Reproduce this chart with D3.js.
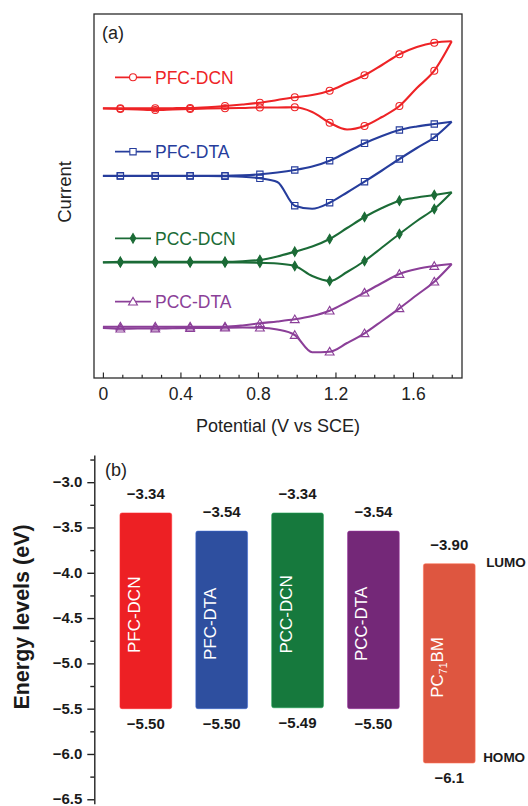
<!DOCTYPE html>
<html><head><meta charset="utf-8">
<script src="https://cdn.jsdelivr.net/npm/d3@7"></script>
<style>
body{margin:0;background:#fff}
svg{display:block;font-family:"Liberation Sans",Arial,Helvetica,sans-serif}
</style>
</head><body>
<svg id="c" width="528" height="806"></svg>
<script>
// ---------- Panel (a): cyclic voltammetry ----------
const potential = [0,0.09,0.18,0.27,0.36,0.45,0.54,0.63,0.72,0.81,0.90,0.99,1.08,1.17,1.26,1.35,1.44,1.53,1.62,1.71,1.80];
const seriesNames = ["PFC-DCN","PFC-DTA","PCC-DCN","PCC-DTA"];
const seriesColors = ["#ee2326","#263d9c","#1b6b36","#8b3f98"];
const seriesSymbols = ["circle","square","diamond","triangle"];
// current (a.u.) on forward (anodic) scan, indexed by potential
const fwdPFC_DCN = [26.97,26.97,26.97,26.97,26.98,27.0,27.08,27.2,27.35,27.53,27.8,28.07,28.3,28.73,29.5,30.27,31.3,32.37,33.1,33.53,33.67];
const fwdPFC_DTA = [20.23,20.23,20.23,20.23,20.23,20.23,20.23,20.23,20.27,20.37,20.55,20.8,21.15,21.73,22.6,23.47,24.2,24.8,25.15,25.4,25.63];
const fwdPCC_DCN = [11.57,11.63,11.63,11.63,11.63,11.63,11.63,11.63,11.68,11.8,12.15,12.63,13.15,13.9,15.0,16.1,17.0,17.73,18.05,18.3,18.57];
const fwdPCC_DTA = [5.13,5.13,5.13,5.13,5.13,5.13,5.13,5.13,5.25,5.47,5.65,5.87,6.2,6.73,7.6,8.53,9.5,10.4,10.9,11.2,11.4];
// current (a.u.) on reverse (cathodic) scan, indexed by potential
const revPFC_DCN = [26.95,26.9,26.85,26.8,26.85,26.9,26.95,26.97,27.0,27.05,27.05,27.07,26.6,25.53,24.85,25.2,26.1,27.2,29.0,30.73,33.67];
const revPFC_DTA = [20.2,20.2,20.2,20.2,20.2,20.2,20.2,20.18,20.13,19.97,19.6,17.23,16.92,17.53,18.55,19.63,20.75,21.9,23.0,24.07,25.63];
const revPCC_DCN = [11.55,11.55,11.55,11.55,11.55,11.55,11.55,11.55,11.55,11.53,11.45,11.2,10.2,9.7,10.6,11.7,13.05,14.4,15.7,16.9,18.57];
const revPCC_DTA = [5.0,4.93,4.95,4.95,4.98,5.0,5.0,5.03,5.05,5.03,4.85,4.3,2.58,2.63,3.5,4.47,5.7,6.97,8.3,9.63,11.4];
const markerPotentials = [0.09,0.27,0.45,0.63,0.81,0.99,1.17,1.35,1.53,1.71];
const xTicksMajor = [0,0.4,0.8,1.2,1.6];
const xTicksMinor = [0.1,0.2,0.3,0.5,0.6,0.7,0.9,1.0,1.1,1.3,1.4,1.5,1.7,1.8];

const fwdAll = [fwdPFC_DCN,fwdPFC_DTA,fwdPCC_DCN,fwdPCC_DTA];
const revAll = [revPFC_DCN,revPFC_DTA,revPCC_DCN,revPCC_DTA];

// ---------- Panel (b): energy levels ----------
const materials = ["PFC-DCN","PFC-DTA","PCC-DCN","PCC-DTA","PC71BM"];
const lumo = [-3.34,-3.54,-3.34,-3.54,-3.90];
const homo = [-5.50,-5.50,-5.49,-5.50,-6.1];
const lumoLabels = ["\u22123.34","\u22123.54","\u22123.34","\u22123.54","\u22123.90"];
const homoLabels = ["\u22125.50","\u22125.50","\u22125.49","\u22125.50","\u22126.1"];
const barColors = ["#ed2024","#2e4f9f","#16793d","#742878","#de5640"];
const eTicksMajor = [-3.0,-3.5,-4.0,-4.5,-5.0,-5.5,-6.0,-6.5];
const eTicksMinor = [-2.75,-3.25,-3.75,-4.25,-4.75,-5.25,-5.75,-6.25];

const svg = d3.select("#c");

// ===== Panel (a) =====
const fL = 94, fR = 462, fT = 14, fB = 378;
const x = d3.scaleLinear().domain([-0.046, 1.853]).range([fL, fR]);
const y = d3.scaleLinear().domain([0, 36.4]).range([fB, fT]);

const gA = svg.append("g");
gA.append("rect").attr("x", fL).attr("y", fT).attr("width", fR-fL).attr("height", fB-fT)
  .attr("fill","none").attr("stroke","#2b2b2b").attr("stroke-width",1.3);

const axMaj = d3.axisBottom(x).tickValues(xTicksMajor).tickSize(-5.5).tickPadding(10)
  .tickFormat(d => d === 0 ? "0" : d3.format(".1f")(d));
const gx = gA.append("g").attr("transform", `translate(0,${fB})`).call(axMaj);
gx.select(".domain").remove();
gx.selectAll(".tick line").attr("stroke","#2b2b2b").attr("stroke-width",1.2);
gx.selectAll(".tick text").attr("font-size",17.5).attr("fill","#222").attr("font-family","Liberation Sans, Arial, sans-serif");
const axMin = d3.axisBottom(x).tickValues(xTicksMinor).tickSize(-3.2).tickFormat("");
const gx2 = gA.append("g").attr("transform", `translate(0,${fB})`).call(axMin);
gx2.select(".domain").remove();
gx2.selectAll(".tick line").attr("stroke","#2b2b2b").attr("stroke-width",1.2);

gA.append("text").attr("x", (fL+fR)/2).attr("y", 432).attr("text-anchor","middle")
  .attr("font-size",18).attr("fill","#222").text("Potential (V vs SCE)");
gA.append("text").attr("transform","translate(71,192) rotate(-90)").attr("text-anchor","middle")
  .attr("font-size",18.5).attr("fill","#222").text("Current");
gA.append("text").attr("x",102).attr("y",39).attr("font-size",18).attr("fill","#222").text("(a)");

const line = d3.line().x(d => x(d[0])).y(d => y(d[1])).curve(d3.curveMonotoneX);
const symType = {circle:d3.symbolCircle, square:d3.symbolSquare, diamond:d3.symbolDiamond, triangle:d3.symbolTriangle};
const symSize = {circle:38, square:40, diamond:26, triangle:34};
const legendOffsets = [31,24,24,25];

seriesNames.forEach((name, i) => {
  const col = seriesColors[i];
  const fwd = potential.map((p,k) => [p, fwdAll[i][k]]);
  const rev = potential.map((p,k) => [p, revAll[i][k]]);
  const g = gA.append("g");
  [fwd, rev].forEach(br => {
    g.append("path").datum(br).attr("d", line).attr("fill","none")
      .attr("stroke", col).attr("stroke-width", 2.1).attr("stroke-linejoin","round");
  });
  const sym = d3.symbol().type(symType[seriesSymbols[i]]).size(symSize[seriesSymbols[i]]);
  const filled = seriesSymbols[i] === "diamond";
  const pts = fwd.concat(rev).filter(d => markerPotentials.some(m => Math.abs(m - d[0]) < 1e-6));
  g.selectAll("path.m").data(pts).join("path").attr("class","m")
    .attr("transform", d => `translate(${x(d[0])},${y(d[1]) + (seriesSymbols[i]==="triangle"?0.8:0)})`)
    .attr("d", sym).attr("fill", filled ? col : "none").attr("stroke", col).attr("stroke-width", 1.1)
    .attr("fill-opacity", filled ? 1 : 0);
  // legend
  const ly = y(fwdAll[i][0]) - legendOffsets[i];
  g.append("line").attr("x1",115).attr("x2",151).attr("y1",ly).attr("y2",ly)
    .attr("stroke", col).attr("stroke-width",1.8);
  g.append("path").attr("transform",`translate(133,${ly + (seriesSymbols[i]==="triangle"?0.8:0)})`).attr("d", sym)
    .attr("fill", filled ? col : "#fff").attr("stroke", col).attr("stroke-width",1.1);
  g.append("text").attr("x",155).attr("y", ly).attr("dy","0.36em")
    .attr("font-size",17.5).attr("fill", col).text(name);
});

// ===== Panel (b) =====
const axisX = 94.3;
const yE = d3.scaleLinear().domain([-2.7, -6.55]).range([455, 803.8]);
const xb = d3.scaleBand().domain(materials).range([95.85, 499.25]).padding(0.318);

const gB = svg.append("g");
const ayMaj = d3.axisLeft(yE).tickValues(eTicksMajor).tickSize(7).tickSizeOuter(0).tickPadding(5)
  .tickFormat(d3.format(".1f"));
const gy = gB.append("g").attr("transform",`translate(${axisX},0)`).call(ayMaj);
gy.select(".domain").attr("stroke","#222").attr("stroke-width",1.4);
gy.selectAll(".tick line").attr("stroke","#222").attr("stroke-width",1.4);
gy.selectAll(".tick text").attr("font-size",15).attr("font-weight","bold").attr("fill","#1a1a1a")
  .attr("dy","0.3em").attr("font-family","Liberation Sans, Arial, sans-serif");
const ayMin = d3.axisLeft(yE).tickValues(eTicksMinor).tickSize(4).tickSizeOuter(0).tickFormat("");
const gy2 = gB.append("g").attr("transform",`translate(${axisX},0)`).call(ayMin);
gy2.select(".domain").remove();
gy2.selectAll(".tick line").attr("stroke","#222").attr("stroke-width",1.4);

gB.append("text").attr("transform","translate(29,617) rotate(-90)").attr("text-anchor","middle")
  .attr("font-size",21.5).attr("font-weight","bold").attr("fill","#1a1a1a").text("Energy levels (eV)");
gB.append("text").attr("x",105).attr("y",476).attr("font-size",18).attr("fill","#222").text("(b)");

materials.forEach((m, i) => {
  const bx = xb(m), bw = xb.bandwidth();
  const top = yE(lumo[i]), bot = yE(homo[i]);
  gB.append("rect").attr("x", bx).attr("y", top).attr("width", bw).attr("height", bot - top)
    .attr("rx", 2).attr("fill", barColors[i])
    .attr("stroke", d3.color(barColors[i]).brighter(0.8)).attr("stroke-width", 0.8).attr("stroke-opacity",0.7);
  const cx = bx + bw/2;
  gB.append("text").attr("x", cx).attr("y", top - 14).attr("text-anchor","middle")
    .attr("font-size",15).attr("font-weight","bold").attr("fill","#1a1a1a").text(lumoLabels[i]);
  gB.append("text").attr("x", cx).attr("y", bot + 20).attr("text-anchor","middle")
    .attr("font-size",15).attr("font-weight","bold").attr("fill","#1a1a1a").text(homoLabels[i]);
  const t = gB.append("text")
    .attr("transform", `translate(${cx - 6},${(top+bot)/2 + 4}) rotate(-90)`)
    .attr("text-anchor","middle").attr("font-size",17).attr("fill","#fff");
  if (m === "PC71BM") {
    t.append("tspan").text("PC");
    t.append("tspan").attr("font-size",10.5).attr("dy",4).text("71");
    t.append("tspan").attr("dy",-4).text("BM");
  } else {
    t.text(m);
  }
});
// LUMO / HOMO tags beside the acceptor bar
const last = materials[materials.length-1];
const tagX = xb(last) + xb.bandwidth() + 11;
gB.append("text").attr("x", tagX).attr("y", yE(lumo[4]) + 3).attr("font-size",13.5)
  .attr("font-weight","bold").attr("fill","#1a1a1a").text("LUMO");
gB.append("text").attr("x", tagX - 3).attr("y", yE(homo[4]) - 1).attr("font-size",13.5)
  .attr("font-weight","bold").attr("fill","#1a1a1a").text("HOMO");
</script>
</body></html>
